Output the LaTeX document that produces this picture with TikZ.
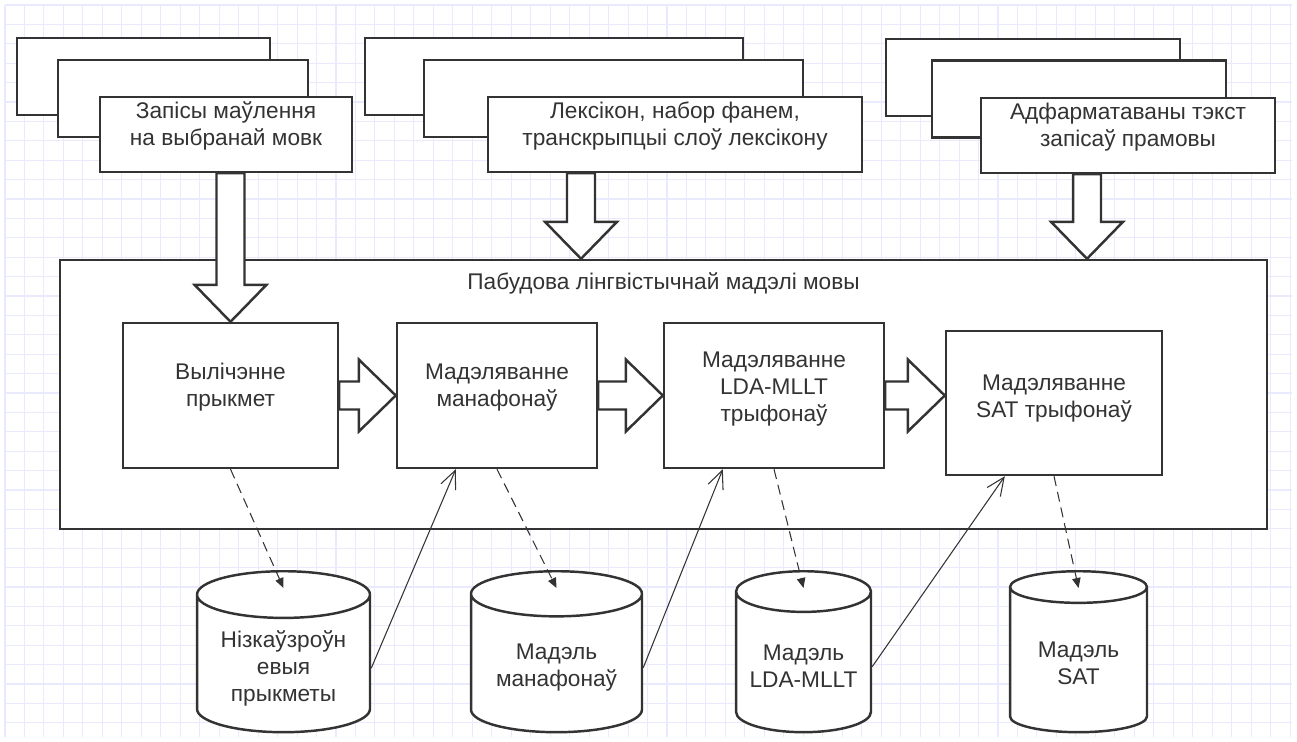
\documentclass[tikz,border=0pt]{standalone}
\usepackage{fontspec}
\setmainfont{Liberation Sans}
\usetikzlibrary{arrows.meta,calc,shapes.geometric}
\definecolor{cline}{RGB}{51,51,51}
\definecolor{cgrid}{RGB}{234,234,255}

% hollow block arrow from #1 to #2
\newcommand\fatarrow[2]{%
  \path ($(#2)!0.74cm!(#1)$) coordinate (fah);
  \draw[fat] ($(#1)!0.28cm!90:(#2)$) -- ($(fah)!0.28cm!90:(#2)$) -- ($(fah)!0.72cm!90:(#2)$) -- (#2)
    -- ($(fah)!0.72cm!-90:(#2)$) -- ($(fah)!0.28cm!-90:(#2)$) -- ($(#1)!0.28cm!-90:(#2)$) -- cycle;
}

\begin{document}
\begin{tikzpicture}[
  x=0.02cm,y=-0.02cm,
  font=\fontsize{12.9}{15.3}\selectfont,
  text=cline,
  box/.style={draw=cline,line width=1.4pt,fill=white,align=center,inner ysep=1pt,text depth=12pt},
  fat/.style={draw=cline,line width=1.4pt,fill=white,line join=miter},
  db/.style={cylinder,shape border rotate=90,aspect=0.34,draw=cline,line width=1.4pt,fill=white,
    align=center,minimum height=3.22cm,inner ysep=1pt,anchor=north},
  dep/.style={draw=cline,line width=0.6pt,dash pattern=on 0.2cm off 0.12cm,-{Triangle[length=0.2cm,width=0.17cm]}},
  use/.style={draw=cline,line width=0.6pt,-{Straight Barb[length=0.36cm,width=0.32cm]}}
]
  \useasboundingbox[fill=white] (0,0) rectangle (1297,742);
  \foreach \i in {0,...,66}
    \draw[cgrid,line width=0.6pt] ({5+19.47*\i},5) -- ({5+19.47*\i},737);
  \foreach \j in {0,...,37}
    \draw[cgrid,line width=0.6pt] (5,{5+19.4*\j}) -- (1292,{5+19.4*\j});

  % input stacks
  \node[box,minimum width=5.06cm,minimum height=1.54cm] (spA) at (143.5,76.5) {};
  \node[box,minimum width=5.0cm,minimum height=1.54cm] (spB) at (183,98.5) {};
  \node[box,minimum width=5.04cm,minimum height=1.5cm] (sp) at (226,134.5)
    {Запісы маўлення\\на выбранай мовк};

  \node[box,minimum width=7.56cm,minimum height=1.54cm] (lxA) at (554,76.5) {};
  \node[box,minimum width=7.58cm,minimum height=1.54cm] (lxB) at (613.5,98.5) {};
  \node[box,minimum width=7.48cm,minimum height=1.5cm] (lx) at (675,134.5)
    {Лексікон, набор фанем,\\транскрыпцыі слоў лексікону};

  \node[box,minimum width=5.88cm,minimum height=1.54cm] (trA) at (1033,77.5) {};
  \node[box,minimum width=5.88cm,minimum height=1.54cm] (trB) at (1079,99) {};
  \node[box,minimum width=5.88cm,minimum height=1.5cm] (tr) at (1128,135.5)
    {Адфарматаваны тэкст\\запісаў прамовы};

  % training pipeline
  \node[box,text depth=0pt,minimum width=24.14cm,minimum height=5.38cm,
        label={[anchor=base,yshift=-0.61cm,inner sep=0pt]north:Пабудова лінгвістычнай мадэлі мовы}]
    (model) at (663.5,394.5) {};
  \node[box,minimum width=4.3cm,minimum height=2.9cm] (feat) at (230.5,395.5) {Вылічэнне\\прыкмет};
  \node[box,minimum width=4.0cm,minimum height=2.9cm] (mono) at (497,395.5) {Мадэляванне\\манафонаў};
  \node[box,text depth=10pt,minimum width=4.4cm,minimum height=2.9cm] (lda) at (774,395.5)
    {Мадэляванне\\LDA-MLLT\\трыфонаў};
  \node[box,text depth=8pt,minimum width=4.32cm,minimum height=2.88cm] (sat) at (1054,403)
    {Мадэляванне\\SAT трыфонаў};

  \coordinate (spout) at (sp.south -| feat.north);
  \fatarrow{spout}{feat.north}
  \coordinate (lxout) at ($(lx.south)+(-94,0)$);
  \coordinate (lxin) at (lxout |- model.north);
  \fatarrow{lxout}{lxin}
  \coordinate (trout) at ($(tr.south)+(-41,0)$);
  \coordinate (trin) at (trout |- model.north);
  \fatarrow{trout}{trin}

  \fatarrow{feat.east}{mono.west}
  \fatarrow{mono.east}{lda.west}
  \coordinate (satin) at (lda.east -| sat.west);
  \fatarrow{lda.east}{satin}

  % stored models
  \node[db,minimum width=3.46cm] (db1) at (283.5,570) {Нізкаўзроўн\\евыя\\прыкметы};
  \node[db,minimum width=3.42cm] (db2) at (556.5,570) {Мадэль\\манафонаў};
  \node[db,minimum width=2.7cm] (db3) at (803.5,570) {Мадэль\\LDA-MLLT};
  \node[db,minimum width=2.74cm] (db4) at (1078.5,570) {Мадэль\\SAT};

  \draw[dep] (feat.south) -- ($(db1.north)+(0,18)$);
  \draw[dep] (mono.south) -- ($(db2.north)+(0,18)$);
  \draw[dep] (lda.south) -- ($(db3.north)+(0,18)$);
  \draw[dep] (sat.south) -- ($(db4.north)+(0,18)$);

  \draw[use] (db1.east) -- ($(mono.south west)+(60,0)$);
  \draw[use] (db2.east) -- ($(lda.south west)+(60,0)$);
  \draw[use] (db3.east) -- ($(sat.south west)+(60,0)$);
\end{tikzpicture}
\end{document}
